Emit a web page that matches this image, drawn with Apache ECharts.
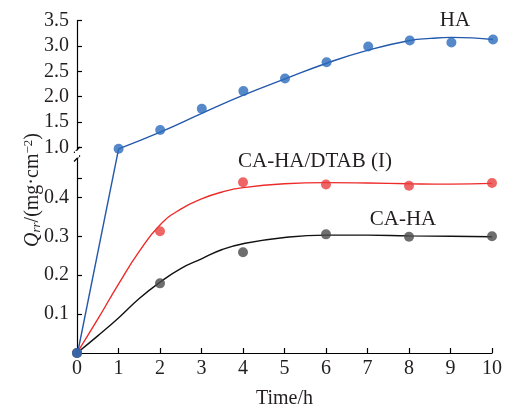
<!DOCTYPE html>
<html>
<head>
<meta charset="UTF-8">
<title>Qrr vs time</title>
<script src="https://cdn.jsdelivr.net/npm/echarts@6/dist/echarts.min.js"></script>
<style>
  html, body { margin: 0; padding: 0; background: #fff; }
  #main { width: 505px; height: 410px; }
</style>
</head>
<body>
<div id="main"></div>
<script type="text/javascript">
// 测量点
var hours = [0, 1, 2, 3, 4, 5, 6, 7, 8, 9, 10];
var haValues = [0, 0.97, 1.34, 1.76, 2.11, 2.36, 2.68, 2.99, 3.11, 3.07, 3.13];
var sampleHours = [0, 2, 4, 6, 8, 10];
var dtabValues = [0, 0.313, 0.439, 0.433, 0.430, 0.437];
var caValues = [0, 0.179, 0.259, 0.305, 0.299, 0.300];

// 拟合曲线
var haFitHours = [1, 2, 3, 4, 5, 6, 7, 8, 8.5, 9, 9.5, 10];
var haFitValues = [0.97, 1.30, 1.67, 2.03, 2.35, 2.66, 2.92, 3.11, 3.15, 3.17, 3.16, 3.13];
var fitHours = [0, 0.5, 1, 1.5, 2, 2.5, 3, 3.5, 4, 5, 6, 7, 8, 9, 10];
var dtabFit = [0, 0.087, 0.177, 0.261, 0.329, 0.370, 0.396, 0.414, 0.425, 0.435, 0.438, 0.437, 0.435, 0.434, 0.436];
var caFit = [0, 0.044, 0.090, 0.140, 0.182, 0.217, 0.242, 0.266, 0.281, 0.297, 0.303, 0.303, 0.301, 0.300, 0.299];

// 坐标轴刻度
var upperTicks = [1.0, 1.5, 2.0, 2.5, 3.0, 3.5];
var lowerLabels = [0.1, 0.2, 0.3, 0.4];
var lowerTicks = [0.1, 0.2, 0.3, 0.4, 0.45];

var FONT = '"Liberation Serif", "DejaVu Serif", serif';
var TXT = '#231f20';
var BLUE = '#2c6bbd', BLUE_LINE = '#2358ab';
var RED = '#e8403f', RED_LINE = '#ee2b2b';
var GREY = '#4a4a4a', BLACK_LINE = '#111111';

// 断轴布局
var LEFT = 77, PLOT_W = 416;
var TOP = 20.7, AXIS_Y = 356;
var upMin = 0.95, upMax = 3.5, upScale = 50.64;
var upH = (upMax - upMin) * upScale;
var lowMax = 0.5, lowScale = 395;
var lowH = lowMax * lowScale;
var lowTop = AXIS_Y - lowH;
// 跨断点连线用的叠加坐标系
var upPix = TOP + (upMax - haValues[1]) * upScale;
var ovMax = haValues[1] * (AXIS_Y - TOP) / (AXIS_Y - upPix);

function pairs(xs, ys) {
    var out = [];
    for (var i = 0; i < xs.length; i++) out.push([xs[i], ys[i]]);
    return out;
}

var haUpper = [], haLower = [];
for (var i = 0; i < hours.length; i++) {
    if (haValues[i] >= upMin) haUpper.push([hours[i], haValues[i]]);
    else haLower.push([hours[i], haValues[i]]);
}

var axisLineStyle = { color: '#000', width: 1.2 };

function hiddenX(idx) {
    return { type: 'value', gridIndex: idx, min: 0, max: 10, interval: 1, show: false };
}

var myChart = echarts.init(document.getElementById('main'));
var option = {
    animation: false,
    backgroundColor: '#fff',
    textStyle: { fontFamily: FONT },
    grid: [
        { left: LEFT, width: PLOT_W, top: TOP, height: upH },
        { left: LEFT, width: PLOT_W, top: lowTop, height: lowH },
        { left: LEFT, width: PLOT_W, top: TOP, height: AXIS_Y - TOP }
    ],
    xAxis: [
        hiddenX(0),
        {
            type: 'value', gridIndex: 1, min: 0, max: 10, interval: 1,
            axisLine: { lineStyle: axisLineStyle },
            axisTick: { inside: true, length: 5, lineStyle: axisLineStyle },
            axisLabel: { color: TXT, fontSize: 20, fontFamily: FONT, margin: 6 },
            splitLine: { show: false },
            name: 'Time/h', nameLocation: 'middle', nameGap: 36,
            nameTextStyle: { color: TXT, fontSize: 20, fontFamily: FONT }
        },
        hiddenX(2)
    ],
    yAxis: [
        {
            type: 'value', gridIndex: 0, min: upMin, max: upMax,
            axisLine: { show: true, lineStyle: axisLineStyle },
            axisTick: { show: true, inside: true, length: 5, lineStyle: axisLineStyle, customValues: upperTicks },
            axisLabel: {
                color: TXT, fontSize: 20, fontFamily: FONT, margin: 8,
                customValues: upperTicks,
                formatter: function (v) { return v.toFixed(1); }
            },
            splitLine: { show: false }
        },
        {
            type: 'value', gridIndex: 1, min: 0, max: lowMax,
            axisLine: { show: true, lineStyle: axisLineStyle },
            axisTick: { show: true, inside: true, length: 5, lineStyle: axisLineStyle, customValues: lowerTicks },
            axisLabel: {
                color: TXT, fontSize: 20, fontFamily: FONT, margin: 8,
                customValues: lowerLabels,
                formatter: function (v) { return v.toFixed(1); }
            },
            splitLine: { show: false }
        },
        { type: 'value', gridIndex: 2, min: 0, max: ovMax, show: false }
    ],
    series: [
        {
            name: 'HA fit', type: 'line', xAxisIndex: 0, yAxisIndex: 0,
            data: pairs(haFitHours, haFitValues), smooth: true, showSymbol: false,
            lineStyle: { color: BLUE_LINE, width: 1.4 }, z: 2
        },
        {
            name: 'HA link', type: 'line', xAxisIndex: 2, yAxisIndex: 2,
            data: [[hours[0], haValues[0]], [hours[1], haValues[1]]], showSymbol: false,
            lineStyle: { color: BLUE_LINE, width: 1.4 }, z: 2
        },
        {
            name: 'CA-HA/DTAB (I) fit', type: 'line', xAxisIndex: 1, yAxisIndex: 1,
            data: pairs(fitHours, dtabFit), smooth: true, showSymbol: false,
            lineStyle: { color: RED_LINE, width: 1.4 }, z: 2
        },
        {
            name: 'CA-HA fit', type: 'line', xAxisIndex: 1, yAxisIndex: 1,
            data: pairs(fitHours, caFit), smooth: true, showSymbol: false,
            lineStyle: { color: BLACK_LINE, width: 1.4 }, z: 2
        },
        {
            name: 'CA-HA/DTAB (I)', type: 'scatter', xAxisIndex: 1, yAxisIndex: 1,
            data: pairs(sampleHours, dtabValues), symbolSize: 10,
            itemStyle: { color: RED }, z: 3
        },
        {
            name: 'CA-HA', type: 'scatter', xAxisIndex: 1, yAxisIndex: 1,
            data: pairs(sampleHours, caValues), symbolSize: 10,
            itemStyle: { color: GREY }, z: 3
        },
        {
            name: 'HA', type: 'scatter', xAxisIndex: 0, yAxisIndex: 0,
            data: haUpper, symbolSize: 10, itemStyle: { color: BLUE }, z: 4
        },
        {
            name: 'HA0', type: 'scatter', xAxisIndex: 1, yAxisIndex: 1,
            data: haLower, symbolSize: 10, itemStyle: { color: BLUE }, z: 4
        }
    ],
    graphic: [
        // 断轴符号
        { type: 'line', shape: { x1: 74, y1: upH + TOP + 3, x2: 80, y2: upH + TOP - 3 }, style: { stroke: '#000', lineWidth: 1.2 } },
        { type: 'line', shape: { x1: 74, y1: lowTop + 3, x2: 80, y2: lowTop - 3 }, style: { stroke: '#000', lineWidth: 1.2 } },
        { type: 'rect', shape: { x: 75, y: upH + TOP + 1, width: 4, height: lowTop - upH - TOP - 2 }, style: { fill: '#fff' }, z: 100 },
        // 曲线标注
        { type: 'text', x: 455, y: 20, style: { text: 'HA', font: '21px ' + FONT, fill: TXT, align: 'center', verticalAlign: 'middle' } },
        { type: 'text', x: 315, y: 161, style: { text: 'CA-HA/DTAB (I)', font: '21px ' + FONT, fill: TXT, align: 'center', verticalAlign: 'middle' } },
        { type: 'text', x: 403, y: 219, style: { text: 'CA-HA', font: '21px ' + FONT, fill: TXT, align: 'center', verticalAlign: 'middle' } },
        // 纵轴标题
        {
            type: 'text', x: 33, y: 190, rotation: Math.PI / 2,
            style: {
                text: '{q|Q}{sub|rr}/(mg·cm{sup|−2})',
                font: '20px ' + FONT, fill: TXT, align: 'center', verticalAlign: 'middle',
                rich: {
                    q: { fontStyle: 'italic', fontSize: 20, fontFamily: FONT, fill: TXT },
                    sub: { fontStyle: 'italic', fontSize: 13, fontFamily: FONT, fill: TXT, verticalAlign: 'bottom', padding: [8, 0, 0, 0] },
                    sup: { fontSize: 13, fontFamily: FONT, fill: TXT, verticalAlign: 'top', padding: [0, 0, 8, 0] }
                }
            }
        }
    ]
};
myChart.setOption(option);
</script>
</body>
</html>
